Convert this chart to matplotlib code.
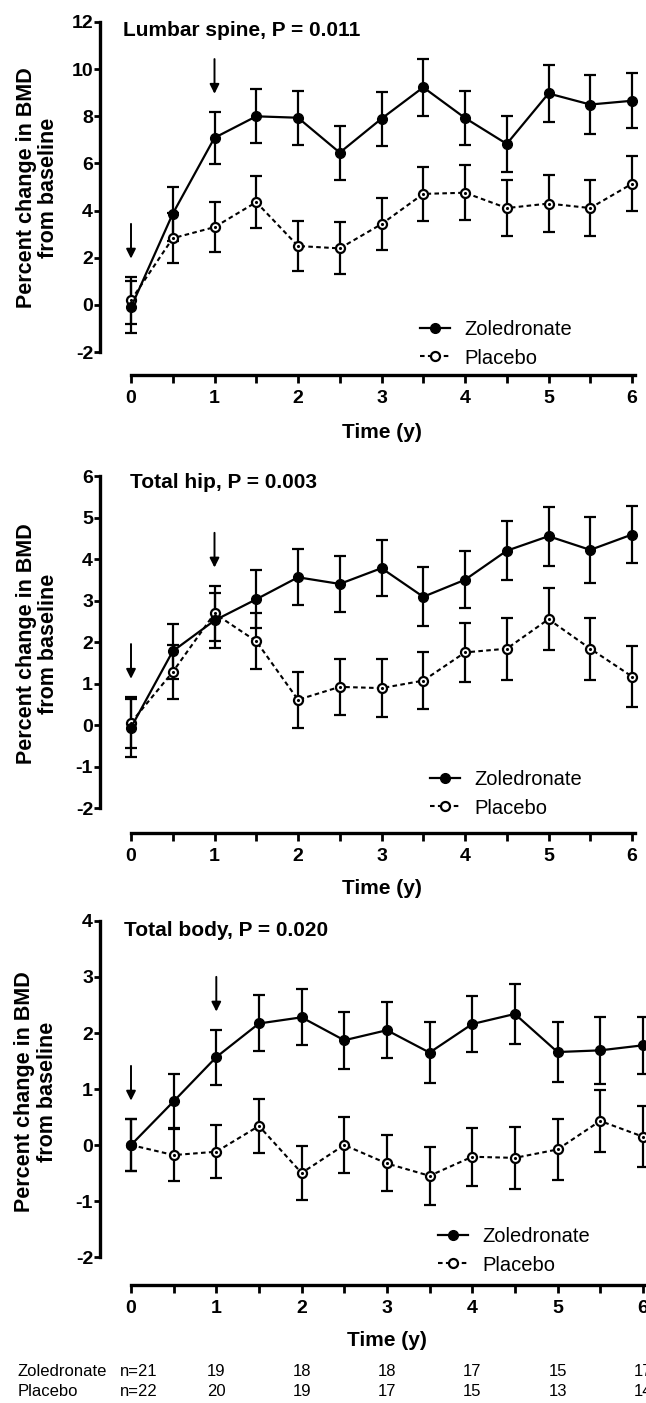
import matplotlib.pyplot as plt
import matplotlib.transforms as mtransforms
from matplotlib.ticker import MultipleLocator
import numpy as np

plt.rcParams['font.family'] = ['Liberation Sans', 'DejaVu Sans']
plt.rcParams['axes.unicode_minus'] = False

# data
time = [0, 0.5, 1, 1.5, 2, 2.5, 3, 3.5, 4, 4.5, 5, 5.5, 6]
dose_times = [0, 1]

lumbar_zol = [-0.1, 3.87, 7.09, 8.0, 7.94, 6.46, 7.9, 9.23, 7.93, 6.83, 8.97, 8.5, 8.66]
lumbar_zol_err = [1.1, 1.15, 1.1, 1.15, 1.15, 1.15, 1.15, 1.2, 1.15, 1.2, 1.2, 1.27, 1.17]
lumbar_pla = [0.2, 2.83, 3.3, 4.36, 2.5, 2.4, 3.43, 4.71, 4.76, 4.11, 4.3, 4.11, 5.14]
lumbar_pla_err = [1.0, 1.05, 1.07, 1.1, 1.07, 1.1, 1.1, 1.15, 1.17, 1.2, 1.2, 1.18, 1.17]

hip_zol = [-0.06, 1.78, 2.52, 3.03, 3.56, 3.4, 3.78, 3.09, 3.5, 4.2, 4.55, 4.22, 4.59]
hip_zol_err = [0.7, 0.66, 0.66, 0.7, 0.67, 0.68, 0.68, 0.71, 0.69, 0.71, 0.71, 0.8, 0.69]
hip_pla = [0.06, 1.28, 2.69, 2.02, 0.61, 0.92, 0.89, 1.07, 1.75, 1.84, 2.55, 1.84, 1.17]
hip_pla_err = [0.62, 0.66, 0.67, 0.68, 0.67, 0.68, 0.69, 0.69, 0.71, 0.75, 0.75, 0.75, 0.74]

body_zol = [0.0, 0.78, 1.57, 2.17, 2.28, 1.87, 2.05, 1.65, 2.16, 2.34, 1.66, 1.69, 1.78]
body_zol_err = [0.47, 0.48, 0.49, 0.5, 0.5, 0.51, 0.5, 0.55, 0.5, 0.53, 0.54, 0.6, 0.51]
body_pla = [0.0, -0.18, -0.12, 0.34, -0.5, 0.0, -0.33, -0.55, -0.21, -0.23, -0.08, 0.43, 0.15]
body_pla_err = [0.47, 0.47, 0.47, 0.49, 0.48, 0.5, 0.5, 0.52, 0.52, 0.55, 0.55, 0.55, 0.54]

n_years = [0, 1, 2, 3, 4, 5, 6]
zol_n = [21, 19, 18, 18, 17, 15, 17]
pla_n = [22, 20, 19, 17, 15, 13, 14]

W, H = 646, 1403
fig = plt.figure(figsize=(W / 100, H / 100), dpi=100)


def add_panel(left, top, right, bottom, x0_px, unit_px, ylo, yhi, ylow_lim):
    ax = fig.add_axes([left / W, 1 - bottom / H, (right - left) / W, (bottom - top) / H])
    ax.set_xlim((left - x0_px) / unit_px, (right - x0_px) / unit_px)
    ax.set_ylim(ylow_lim, yhi)
    ax.spines['top'].set_visible(False)
    ax.spines['right'].set_visible(False)
    ax.spines['left'].set_bounds(ylo, yhi)
    ax.spines['bottom'].set_bounds(0, 6.04)
    for s in ('left', 'bottom'):
        ax.spines[s].set_linewidth(2.4)
    ax.xaxis.set_major_locator(MultipleLocator(1))
    ax.xaxis.set_minor_locator(MultipleLocator(0.5))
    ax.tick_params(axis='x', which='both', direction='out', length=5.5, width=2,
                   labelsize=14, pad=5.5)
    ax.tick_params(axis='y', which='both', direction='out', length=4, width=2,
                   labelsize=14, pad=1)
    return ax


def draw(ax, zol, zol_err, pla, pla_err, ylo, ystep, title, legend_xy):
    ax.set_yticks(np.arange(ylo, ax.get_ylim()[1] + 0.01, ystep))
    ax.set_xticks(np.arange(0, 7, 1))
    for lab in ax.get_xticklabels() + ax.get_yticklabels():
        lab.set_fontweight('bold')

    ax.errorbar(time, pla, yerr=pla_err, fmt='none', ecolor='black',
                elinewidth=1.6, capsize=4.5, capthick=1.6, zorder=2)
    ax.errorbar(time, zol, yerr=zol_err, fmt='none', ecolor='black',
                elinewidth=1.6, capsize=4.5, capthick=1.6, zorder=2)
    ax.plot(time, pla, linestyle=(0, (2.2, 1.6)), color='black', linewidth=1.5,
            marker='o', markersize=6.5, markerfacecolor='white',
            markeredgecolor='black', markeredgewidth=1.6, zorder=3, label='Placebo')
    ax.plot(time, pla, linestyle='none', marker='.', markersize=2.5, color='black', zorder=4)
    ax.plot(time, zol, linestyle='-', color='black', linewidth=1.6,
            marker='o', markersize=7, markerfacecolor='black',
            markeredgecolor='black', zorder=4, label='Zoledronate')

    # dosing arrows above each infusion time
    tops = np.maximum(np.array(zol) + np.array(zol_err), np.array(pla) + np.array(pla_err))
    for t in dose_times:
        i = time.index(t)
        ax.annotate('', xy=(t, tops[i]), xytext=(0, 38), textcoords='offset points',
                    arrowprops=dict(arrowstyle='-|>', color='black', lw=1.4,
                                    mutation_scale=14, shrinkA=0, shrinkB=13))

    ax.text(title[1] / W, 1 - title[2] / H, title[0], transform=fig.transFigure,
            fontsize=15, fontweight='bold', va='center', ha='left')

    ax.set_ylabel('Percent change in BMD\nfrom baseline', fontsize=15.5,
                  fontweight='bold', linespacing=1.1)
    ax.yaxis.set_label_coords(-0.075, 0.53)
    ax.set_xlabel('Time (y)', fontsize=15, fontweight='bold')

    handles, labels = ax.get_legend_handles_labels()
    ax.legend(handles[::-1], labels[::-1], loc='center left',
              bbox_to_anchor=(legend_xy[0] / W, 1 - legend_xy[1] / H),
              bbox_transform=fig.transFigure, frameon=False, fontsize=14.5,
              handlelength=1.5, handletextpad=0.7, labelspacing=0.45,
              borderpad=0, borderaxespad=0)
    return ax


ax1 = add_panel(100, 22, 640, 375, 131, 83.5, -2, 12, -2.97)
draw(ax1, lumbar_zol, lumbar_zol_err, lumbar_pla, lumbar_pla_err, -2, 2,
     ('Lumbar spine, P = 0.011', 123, 31), (420, 344))
ax1.xaxis.set_label_coords(0.522, -0.135)

ax2 = add_panel(100, 476, 640, 833, 131, 83.5, -2, 6, -2.6)
draw(ax2, hip_zol, hip_zol_err, hip_pla, hip_pla_err, -2, 1,
     ('Total hip, P = 0.003', 130, 483), (430, 794))
ax2.xaxis.set_label_coords(0.522, -0.128)

ax3 = add_panel(100, 921, 662, 1285, 131, 85.3, -2, 4, -2.5)
draw(ax3, body_zol, body_zol_err, body_pla, body_pla_err, -2, 1,
     ('Total body, P = 0.020', 124, 930), (438, 1251))
ax3.spines['bottom'].set_bounds(0, 6.2)
ax3.xaxis.set_label_coords(0.51, -0.127)

# numbers at risk under the last panel
trans = mtransforms.blended_transform_factory(ax3.transData, fig.transFigure)
for row_y, name, counts in ((1372, 'Zoledronate', zol_n), (1391, 'Placebo', pla_n)):
    fig.text(18 / W, 1 - row_y / H, name, fontsize=12, va='center', ha='left')
    fig.text(120 / W, 1 - row_y / H, 'n=%d' % counts[0], fontsize=12, va='center', ha='left')
    for yr, c in zip(n_years[1:], counts[1:]):
        ax3.text(yr, 1 - row_y / H, str(c), transform=trans, fontsize=12,
                 va='center', ha='center', clip_on=False)

fig.savefig('out.png', dpi=100)
